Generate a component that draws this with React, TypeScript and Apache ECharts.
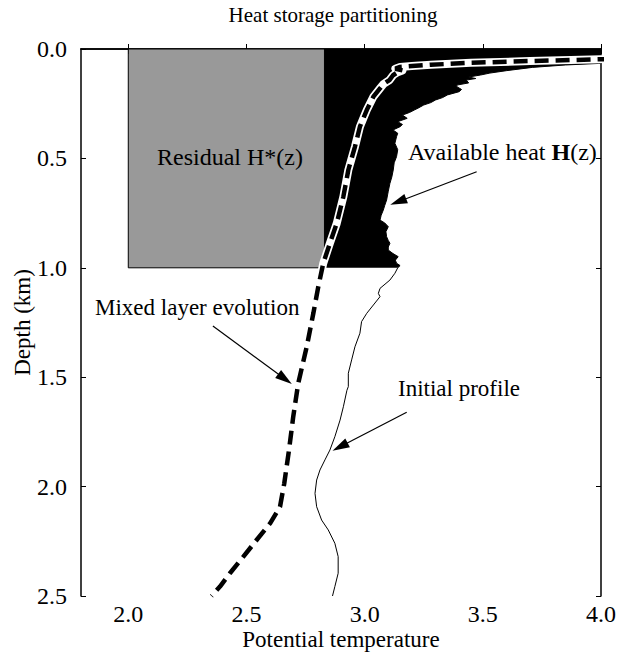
import { useEffect, useRef } from "react";
import * as echarts from "echarts";

const FONT = '"Liberation Serif", "Times New Roman", Times, serif';

// Initial potential temperature profile (depth in km, temperature)
const profileDepth = [
  0.0, 0.03, 0.055, 0.066, 0.073, 0.084, 0.099, 0.11, 0.119, 0.128, 0.135, 0.142,
  0.155, 0.165, 0.172, 0.185, 0.195, 0.21, 0.222, 0.233, 0.245, 0.256, 0.268,
  0.279, 0.29, 0.302, 0.317, 0.332, 0.345, 0.355, 0.37, 0.385, 0.401, 0.431,
  0.46, 0.492, 0.52, 0.553, 0.585, 0.614, 0.65, 0.69, 0.715, 0.736, 0.76, 0.782,
  0.795, 0.812, 0.835, 0.858, 0.875, 0.888, 0.905, 0.919, 0.935, 0.949, 0.965,
  0.979, 0.99, 1.0, 1.025, 1.056, 1.094, 1.117, 1.132, 1.17, 1.208, 1.246, 1.299,
  1.361, 1.421, 1.482, 1.543, 1.56, 1.635, 1.696, 1.772, 1.833, 1.878, 1.924,
  1.97, 2.031, 2.092, 2.153, 2.198, 2.259, 2.32, 2.396, 2.457, 2.5,
];
const profileTemp = [
  4.6, 4.4, 4.15, 3.99, 3.85, 3.71, 3.6, 3.53, 3.49, 3.44, 3.47, 3.43,
  3.44, 3.39, 3.39, 3.41, 3.4, 3.35, 3.33, 3.3, 3.28, 3.25, 3.23,
  3.21, 3.19, 3.16, 3.18, 3.14, 3.16, 3.15, 3.12, 3.14, 3.135, 3.128,
  3.14, 3.135, 3.125, 3.121, 3.115, 3.107, 3.1, 3.093, 3.085, 3.079, 3.07, 3.065,
  3.085, 3.1, 3.09, 3.093, 3.1, 3.107, 3.1, 3.1, 3.12, 3.142, 3.13,
  3.135, 3.15, 3.14, 3.128, 3.107, 3.065, 3.058, 3.065, 3.037, 3.009, 2.987, 2.98,
  2.959, 2.945, 2.931, 2.931, 2.925, 2.91, 2.896, 2.874, 2.853, 2.832, 2.811,
  2.797, 2.79, 2.797, 2.818, 2.846, 2.874, 2.888, 2.888, 2.874, 2.864,
];

// Mixed layer evolution (depth in km, temperature)
const mixedDepth = [
  0.035, 0.047, 0.055, 0.063, 0.072, 0.078, 0.082, 0.09, 0.098, 0.106, 0.12,
  0.142, 0.16, 0.18, 0.218, 0.279, 0.355, 0.447, 0.553, 0.675, 0.797, 0.888,
  0.979, 1.086, 1.208, 1.361, 1.528, 1.68, 1.833, 1.985, 2.092, 2.168, 2.244,
  2.32, 2.396, 2.457, 2.5,
];
const mixedTemp = [
  4.4, 4.0, 3.7, 3.45, 3.28, 3.2, 3.15, 3.13, 3.16, 3.14, 3.12,
  3.105, 3.08, 3.065, 3.037, 3.009, 2.98, 2.959, 2.931, 2.91, 2.882, 2.853,
  2.825, 2.804, 2.783, 2.755, 2.719, 2.698, 2.68, 2.66, 2.642, 2.6, 2.543,
  2.487, 2.43, 2.388, 2.352,
];

// Residual box H*(z) and the lower bound of the available heat region
const residualTemp = [2.0, 2.83];
const residualDepth = [0.0, 1.0];

// Axis ticks
const tempTicks = [2.0, 2.5, 3.0, 3.5, 4.0];
const depthTicks = [0.0, 0.5, 1.0, 1.5, 2.0, 2.5];
const tempMin = 1.8;

// Annotation arrows (tail -> head, in temperature / depth)
const arrowTail = [
  [3.474, 0.561],
  [2.358, 1.266],
  [3.178, 1.66],
];
const arrowHead = [
  [3.142, 0.698],
  [2.663, 1.508],
  [2.896, 1.818],
];

export default function App() {
  const ref = useRef<HTMLDivElement>(null);

  useEffect(() => {
    if (!ref.current) return;
    const chart = echarts.init(ref.current, null, { renderer: "svg" });

    const profile = profileDepth.map((z, i) => [profileTemp[i], z]);
    const mixed = mixedDepth.map((z, i) => [mixedTemp[i], z]);
    const mixedUpper = mixed.filter((p) => p[1] <= 1.1);
    const zBottom = residualDepth[1];
    const heatEdge = profile.filter((p) => p[1] <= zBottom);

    const tickFmt = (v: number) =>
      Math.abs(v - tempMin) < 1e-6 ? "" : v.toFixed(1);

    const axisCommon = {
      type: "value" as const,
      axisLine: { show: true, lineStyle: { color: "#000", width: 1.5 } },
      axisTick: { show: true, inside: true, length: 5, lineStyle: { color: "#000", width: 1 } },
      splitLine: { show: false },
    };
    const tickFont = { color: "#000", fontFamily: FONT, fontSize: 24 };
    const nameFont = { color: "#000", fontFamily: FONT, fontSize: 23 };
    const textFont = `24px ${FONT}`;

    chart.setOption({
      animation: false,
      backgroundColor: "#fff",
      grid: { left: 81, right: 18, top: 49, bottom: 69, containLabel: false, outerBoundsMode: "none" },
      xAxis: [
        {
          ...axisCommon,
          position: "bottom",
          min: tempMin,
          max: tempTicks[tempTicks.length - 1],
          splitNumber: 5,
          axisTick: { ...axisCommon.axisTick, customValues: tempTicks },
          axisLabel: { ...tickFont, margin: 6, formatter: tickFmt, customValues: tempTicks },
          name: "Potential temperature",
          nameLocation: "middle",
          nameGap: 32,
          nameMoveOverlap: false,
          nameTextStyle: nameFont,
        },
        {
          ...axisCommon,
          position: "top",
          min: tempMin,
          max: tempTicks[tempTicks.length - 1],
          splitNumber: 5,
          axisTick: { ...axisCommon.axisTick, customValues: tempTicks },
          axisLabel: { show: false },
        },
      ],
      yAxis: [
        {
          ...axisCommon,
          position: "left",
          inverse: true,
          min: depthTicks[0],
          max: depthTicks[depthTicks.length - 1],
          interval: 0.5,
          axisLabel: { ...tickFont, margin: 14, formatter: (v: number) => v.toFixed(1) },
          name: "Depth (km)",
          nameLocation: "middle",
          nameGap: 47,
          nameRotate: 90,
          nameMoveOverlap: false,
          nameTextStyle: nameFont,
        },
        {
          ...axisCommon,
          position: "right",
          inverse: true,
          min: depthTicks[0],
          max: depthTicks[depthTicks.length - 1],
          interval: 0.5,
          axisLabel: { show: false },
        },
      ],
      series: [
        {
          // residual heat box
          type: "custom",
          xAxisIndex: 0,
          yAxisIndex: 0,
          z: 2,
          silent: true,
          clip: true,
          data: [[residualTemp[0], residualDepth[0]]],
          renderItem: (_params: any, api: any) => {
            const a = api.coord([residualTemp[0], residualDepth[0]]);
            const b = api.coord([residualTemp[1], residualDepth[1]]);
            return {
              type: "rect",
              shape: { x: a[0], y: a[1], width: b[0] - a[0], height: b[1] - a[1] },
              style: { fill: "#999999", stroke: "#000", lineWidth: 1 },
            };
          },
        },
        {
          // available heat region between the residual box and the initial profile
          type: "custom",
          xAxisIndex: 0,
          yAxisIndex: 0,
          z: 3,
          silent: true,
          clip: true,
          data: [[residualTemp[1], residualDepth[0]]],
          renderItem: (_params: any, api: any) => {
            const pts = [
              api.coord([residualTemp[1], residualDepth[0]]),
              ...heatEdge.map((p) => api.coord(p)),
              api.coord([residualTemp[1], zBottom]),
            ];
            return {
              type: "polygon",
              shape: { points: pts },
              style: { fill: "#000" },
            };
          },
        },
        {
          name: "Initial profile",
          type: "line",
          xAxisIndex: 0,
          yAxisIndex: 0,
          z: 4,
          silent: true,
          clip: true,
          symbol: "none",
          data: profile,
          lineStyle: { color: "#000", width: 1 },
          markLine: {
            silent: true,
            symbol: ["none", "triangle"],
            symbolSize: [10, 17],
            label: { show: false },
            lineStyle: { color: "#000", width: 1.2, type: "solid" },
            itemStyle: { color: "#000" },
            data: arrowTail.map((t, i) => [{ coord: t }, { coord: arrowHead[i] }]),
          },
        },
        {
          // white halo below the dashed line
          type: "line",
          xAxisIndex: 0,
          yAxisIndex: 0,
          z: 5,
          silent: true,
          clip: true,
          symbol: "none",
          data: mixedUpper,
          lineStyle: { color: "#fff", width: 8, cap: "round", join: "round" },
        },
        {
          name: "Mixed layer evolution",
          type: "line",
          xAxisIndex: 0,
          yAxisIndex: 0,
          z: 6,
          silent: true,
          clip: true,
          symbol: "none",
          data: mixed,
          lineStyle: { color: "#000", width: 4.5, type: [14, 7], cap: "butt" },
        },
      ],
      graphic: [
        {
          type: "text",
          x: 333,
          y: 15,
          style: {
            text: "Heat storage partitioning",
            font: `21px ${FONT}`,
            fill: "#000",
            align: "center",
            verticalAlign: "middle",
          },
        },
        {
          type: "text",
          x: 230,
          y: 157,
          z: 10,
          style: {
            text: "Residual H*(z)",
            font: textFont,
            fill: "#000",
            align: "center",
            verticalAlign: "middle",
          },
        },
        {
          type: "text",
          x: 408,
          y: 152,
          z: 10,
          style: {
            text: "Available heat {b|H}(z)",
            font: textFont,
            fill: "#000",
            align: "left",
            verticalAlign: "middle",
            rich: {
              b: { fontFamily: FONT, fontSize: 24, fontWeight: "bold", fill: "#000" },
            },
          },
        },
        {
          type: "text",
          x: 95,
          y: 307,
          z: 10,
          style: {
            text: "Mixed layer evolution",
            font: `23px ${FONT}`,
            fill: "#000",
            align: "left",
            verticalAlign: "middle",
          },
        },
        {
          type: "text",
          x: 398,
          y: 388,
          z: 10,
          style: {
            text: "Initial profile",
            font: `23px ${FONT}`,
            fill: "#000",
            align: "left",
            verticalAlign: "middle",
          },
        },
      ],
    });

    return () => chart.dispose();
  }, []);

  return (
    <div
      ref={ref}
      style={{ position: "absolute", left: 0, top: 0, width: 619, height: 665, background: "#fff" }}
    />
  );
}
